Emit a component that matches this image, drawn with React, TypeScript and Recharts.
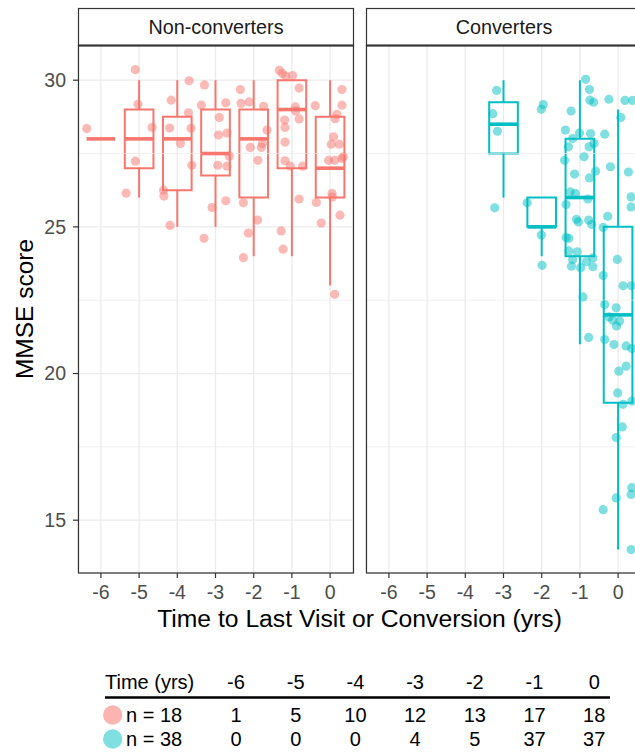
import React from "react";
import {
  ComposedChart,
  Scatter,
  XAxis,
  YAxis,
  CartesianGrid,
  ReferenceArea,
  ReferenceLine,
} from "recharts";

const FONT = "'Liberation Sans', Arial, Helvetica, sans-serif";
const RED = "#F8766D";
const CYAN = "#00BFC4";

// ---------- axis / tick data ----------
const X_TICKS = [-6, -5, -4, -3, -2, -1, 0];
const Y_TICKS = [15, 20, 25, 30];
const Y_MINOR = [17.5, 22.5, 27.5];
const X_DOMAIN: [number, number] = [-6.6, 0.6];
const Y_DOMAIN: [number, number] = [13.2, 31.2];

// ---------- Non-converters boxplot stats ----------
const NC_TIMES = [-6, -5, -4, -3, -2, -1, 0];
const NC_MIN = [28, 26, 25, 25, 24, 24, 23];
const NC_Q1 = [28, 27, 26.25, 26.75, 26, 27, 26];
const NC_MED = [28, 28, 28, 27.5, 28, 29, 27];
const NC_Q3 = [28, 29, 28.75, 29, 29, 30, 28.75];
const NC_MAX = [28, 30, 30, 30, 30, 30, 30];

// ---------- Converters boxplot stats ----------
const CV_TIMES = [-3, -2, -1, 0];
const CV_MIN = [26, 24, 21, 14];
const CV_Q1 = [27.5, 25, 24, 19];
const CV_MED = [28.5, 25, 26, 22];
const CV_Q3 = [29.25, 26, 28, 25];
const CV_MAX = [30, 26, 30, 29];

// ---------- jittered points (time, MMSE) ----------
const NC_POINTS: [number, number][] = [
  [-6.37, 28.35],
  [-5.1, 30.36], [-5.03, 29.18], [-4.66, 28.39], [-5.1, 27.24], [-5.34, 26.15],
  [-3.69, 29.98], [-4.16, 29.32], [-3.71, 28.89], [-4.2, 28.37], [-3.64, 28.36],
  [-3.92, 27.84], [-3.62, 27.1], [-4.36, 26.25], [-4.35, 26.05], [-4.19, 25.05],
  [-3.29, 29.84], [-3.37, 29.15], [-2.73, 29.23], [-2.9, 28.73], [-2.92, 28.13],
  [-2.7, 28.2], [-2.64, 27.41], [-2.94, 27.1], [-2.7, 27.07], [-3.09, 25.66],
  [-2.73, 25.89], [-3.3, 24.61],
  [-2.35, 29.68], [-2.33, 29.21], [-2.12, 29.26], [-1.74, 29.11], [-1.65, 28.3],
  [-2.09, 27.71], [-1.8, 27.71], [-1.77, 27.84], [-1.89, 27.27], [-2.27, 25.82],
  [-1.9, 25.23], [-2.14, 24.79], [-2.27, 23.95],
  [-1.33, 30.34], [-1.25, 30.23], [-1.16, 30.14], [-0.98, 30.16], [-0.81, 29.73],
  [-0.91, 29.09], [-0.9, 28.95], [-0.81, 28.68], [-1.19, 28.64], [-1.18, 28.39],
  [-1.18, 27.89], [-1.18, 27.25], [-1.04, 27.07], [-0.72, 27.07], [-0.81, 25.95],
  [-1.28, 24.86], [-1.23, 24.24],
  [-0.39, 29.13], [0.31, 29.68], [0.31, 29.15], [0.18, 28.84], [0.13, 28.69],
  [0.09, 28.07], [0.03, 27.82], [0.24, 27.82], [-0.04, 27.27], [0.12, 27.27],
  [0.31, 27.33], [0.35, 27.39], [0.05, 26.14], [0.06, 26.02], [-0.36, 25.83],
  [-0.23, 25.13], [0.26, 25.4], [0.12, 22.7],
];

const CV_POINTS: [number, number][] = [
  [-3.18, 29.65], [-3.28, 28.86], [-3.16, 28.26], [-3.23, 25.65],
  [-2.38, 25.82], [-2.01, 29.01], [-1.96, 29.17], [-2.01, 24.72], [-1.99, 23.69],
  [-0.85, 30.03], [-0.75, 29.68], [-0.74, 29.32], [-0.64, 29.25], [-1.23, 28.95],
  [-1.38, 28.3], [-1.01, 28.2], [-0.72, 28.18], [-1.19, 28.01], [-0.63, 27.84],
  [-0.76, 27.73], [-1.3, 27.73], [-0.89, 27.39], [-1.4, 27.27], [-0.59, 26.9],
  [-1.14, 26.8], [-0.75, 26.67], [-1.25, 26.19], [-1.12, 26.14], [-0.79, 25.95],
  [-1.36, 25.76], [-1.09, 25.26], [-1.04, 25.17], [-0.77, 25.23], [-0.69, 25.08],
  [-1.36, 24.64], [-1.29, 24.61], [-1.29, 24.18], [-1.07, 24.15], [-1.19, 23.89],
  [-0.66, 23.94], [-0.83, 23.81], [-1.22, 23.66], [-0.98, 23.61], [-0.66, 23.64],
  [-0.92, 22.61], [-0.77, 21.23],
  [-0.24, 29.35], [0.18, 29.31], [0.38, 29.31], [0.07, 28.73], [-0.35, 28.16],
  [-0.2, 27.05], [0.27, 26.87], [0.34, 26.02], [0.34, 25.68], [-0.27, 25.36],
  [-0.39, 24.98], [-0.02, 23.89], [-0.39, 23.34], [0.13, 22.99], [0.35, 22.99],
  [-0.35, 22.35], [-0.05, 22.24], [-0.24, 21.93], [-0.14, 21.82], [0.04, 21.79],
  [-0.04, 21.62], [-0.35, 21.16], [-0.11, 20.99], [0.21, 20.94], [0.36, 20.85],
  [0.21, 20.25], [0.02, 20.08], [-0.01, 19.34], [0.13, 18.95], [0.36, 19.06],
  [0.11, 18.18], [-0.05, 17.82], [0.36, 16.11], [0.34, 15.88], [-0.05, 15.76],
  [-0.39, 15.36], [0.34, 14.0],
];

// ---------- table ----------
const TABLE_HEADER = "Time (yrs)";
const TABLE_TIMES = ["-6", "-5", "-4", "-3", "-2", "-1", "0"];
const NC_LABEL = "n = 18";
const CV_LABEL = "n = 38";
const NC_COUNTS = [1, 5, 10, 12, 13, 17, 18];
const CV_COUNTS = [0, 0, 0, 4, 5, 37, 37];

const HALF = 0.375;
const LW = 2;
const MW = 3.6;

function renderBoxes(
  prefix: string,
  times: number[],
  mins: number[],
  q1s: number[],
  meds: number[],
  q3s: number[],
  maxs: number[],
  color: string
) {
  const els: React.ReactNode[] = [];
  times.forEach((t, i) => {
    if (q3s[i] > q1s[i]) {
      els.push(
        <ReferenceArea
          key={`${prefix}-box-${i}`}
          x1={t - HALF}
          x2={t + HALF}
          y1={q1s[i]}
          y2={q3s[i]}
          fill="none"
          fillOpacity={0}
          stroke={color}
          strokeWidth={LW}
          strokeOpacity={1}
          ifOverflow="visible"
        />
      );
    }
    if (mins[i] < q1s[i]) {
      els.push(
        <ReferenceLine
          key={`${prefix}-wlo-${i}`}
          segment={[{ x: t, y: mins[i] }, { x: t, y: q1s[i] }]}
          stroke={color}
          strokeWidth={LW}
          ifOverflow="visible"
        />
      );
    }
    if (maxs[i] > q3s[i]) {
      els.push(
        <ReferenceLine
          key={`${prefix}-whi-${i}`}
          segment={[{ x: t, y: q3s[i] }, { x: t, y: maxs[i] }]}
          stroke={color}
          strokeWidth={LW}
          ifOverflow="visible"
        />
      );
    }
    els.push(
      <ReferenceLine
        key={`${prefix}-med-${i}`}
        segment={[{ x: t - HALF, y: meds[i] }, { x: t + HALF, y: meds[i] }]}
        stroke={color}
        strokeWidth={MW}
        ifOverflow="visible"
      />
    );
  });
  return els;
}

function makeDot(color: string) {
  return (props: any) => {
    if (props.cx == null || props.cy == null) return <g />;
    return (
      <circle cx={props.cx} cy={props.cy} r={4.6} fill={color} fillOpacity={0.5} stroke="none" />
    );
  };
}

const tickStyle = { fill: "#4D4D4D", fontSize: 19.5, fontFamily: FONT };

function Panel(props: {
  width: number;
  margin: any;
  showY: boolean;
  points: [number, number][];
  color: string;
  boxes: React.ReactNode[];
}) {
  const data = props.points.map(([t, v]) => ({ t, v }));
  return (
    <ComposedChart width={props.width} height={610} margin={props.margin}>
      <CartesianGrid stroke="#EBEBEB" strokeWidth={1.3} />
      {Y_MINOR.map((y) => (
        <ReferenceLine key={`minor-${y}`} y={y} stroke="#EBEBEB" strokeWidth={0.7} />
      ))}
      <XAxis
        type="number"
        dataKey="t"
        domain={X_DOMAIN}
        ticks={X_TICKS}
        allowDataOverflow
        interval={0}
        height={30}
        axisLine={false}
        tickLine={{ stroke: "#333333", strokeWidth: 1.2 }}
        tickSize={5}
        tickMargin={7}
        tick={tickStyle}
      />
      <YAxis
        type="number"
        domain={Y_DOMAIN}
        ticks={Y_TICKS}
        allowDataOverflow
        interval={0}
        width={props.showY ? 30 : 0}
        axisLine={false}
        tickLine={props.showY ? { stroke: "#333333", strokeWidth: 1.2 } : false}
        tickSize={5}
        tickMargin={7}
        tick={props.showY ? tickStyle : false}
      />
      {props.boxes}
      <Scatter
        data={data}
        dataKey="v"
        isAnimationActive={false}
        shape={makeDot(props.color)}
      />
    </ComposedChart>
  );
}

export default function App() {
  const ncBoxes = renderBoxes("nc", NC_TIMES, NC_MIN, NC_Q1, NC_MED, NC_Q3, NC_MAX, RED);
  const cvBoxes = renderBoxes("cv", CV_TIMES, CV_MIN, CV_Q1, CV_MED, CV_Q3, CV_MAX, CYAN);
  const colX = (i: number) => 236 + 59.7 * i;
  return (
    <div
      style={{
        position: "absolute",
        left: 0,
        top: 0,
        width: 635,
        height: 753,
        overflow: "hidden",
        background: "#FFFFFF",
        fontFamily: FONT,
      }}
    >
      <div style={{ position: "absolute", left: 0, top: 0 }}>
        <Panel
          width={360}
          margin={{ top: 45, right: 7, bottom: 7, left: 48 }}
          showY={true}
          points={NC_POINTS}
          color={RED}
          boxes={ncBoxes}
        />
      </div>
      <div style={{ position: "absolute", left: 360, top: 0 }}>
        <Panel
          width={290}
          margin={{ top: 45, right: 9, bottom: 7, left: 6 }}
          showY={false}
          points={CV_POINTS}
          color={CYAN}
          boxes={cvBoxes}
        />
      </div>
      <svg
        width={635}
        height={753}
        style={{ position: "absolute", left: 0, top: 0, pointerEvents: "none" }}
      >
        {/* panel borders */}
        <rect x={78.5} y={45.5} width={275} height={527.5} fill="none" stroke="#333333" strokeWidth={1.2} />
        <rect x={366.5} y={45.5} width={275} height={527.5} fill="none" stroke="#333333" strokeWidth={1.2} />
        {/* strips */}
        <rect x={78.5} y={8.5} width={275} height={37} fill="#FFFFFF" stroke="#333333" strokeWidth={1.2} />
        <rect x={366.5} y={8.5} width={275} height={37} fill="#FFFFFF" stroke="#333333" strokeWidth={1.2} />
        <line x1={78} x2={354} y1={45.5} y2={45.5} stroke="#333333" strokeWidth={2.2} />
        <line x1={366} x2={642} y1={45.5} y2={45.5} stroke="#333333" strokeWidth={2.2} />
        <text x={216} y={33.5} textAnchor="middle" fontSize={19.8} fill="#1A1A1A" fontFamily={FONT}>
          Non-converters
        </text>
        <text x={504} y={33.5} textAnchor="middle" fontSize={19.8} fill="#1A1A1A" fontFamily={FONT}>
          Converters
        </text>
        {/* axis titles */}
        <text
          x={33}
          y={309}
          textAnchor="middle"
          fontSize={24.5}
          fill="#000000"
          fontFamily={FONT}
          transform="rotate(-90 33 309)"
        >
          MMSE score
        </text>
        <text x={359.5} y={627} textAnchor="middle" fontSize={24.7} fill="#000000" fontFamily={FONT}>
          Time to Last Visit or Conversion (yrs)
        </text>
        {/* table */}
        <text x={105} y={689} fontSize={20} fill="#000000" fontFamily={FONT}>
          {TABLE_HEADER}
        </text>
        {TABLE_TIMES.map((s, i) => (
          <text key={`th-${i}`} x={colX(i)} y={689} textAnchor="middle" fontSize={20} fill="#000000" fontFamily={FONT}>
            {s}
          </text>
        ))}
        <line x1={105} x2={610} y1={697.5} y2={697.5} stroke="#000000" strokeWidth={2.6} />
        <circle cx={112.7} cy={715} r={9.7} fill={RED} fillOpacity={0.55} />
        <circle cx={112.7} cy={739} r={9.7} fill={CYAN} fillOpacity={0.5} />
        <text x={126} y={722} fontSize={20} fill="#000000" fontFamily={FONT}>
          {NC_LABEL}
        </text>
        <text x={126} y={746} fontSize={20} fill="#000000" fontFamily={FONT}>
          {CV_LABEL}
        </text>
        {NC_COUNTS.map((n, i) => (
          <text key={`nc-${i}`} x={colX(i)} y={722} textAnchor="middle" fontSize={20} fill="#000000" fontFamily={FONT}>
            {n}
          </text>
        ))}
        {CV_COUNTS.map((n, i) => (
          <text key={`cv-${i}`} x={colX(i)} y={746} textAnchor="middle" fontSize={20} fill="#000000" fontFamily={FONT}>
            {n}
          </text>
        ))}
      </svg>
    </div>
  );
}
